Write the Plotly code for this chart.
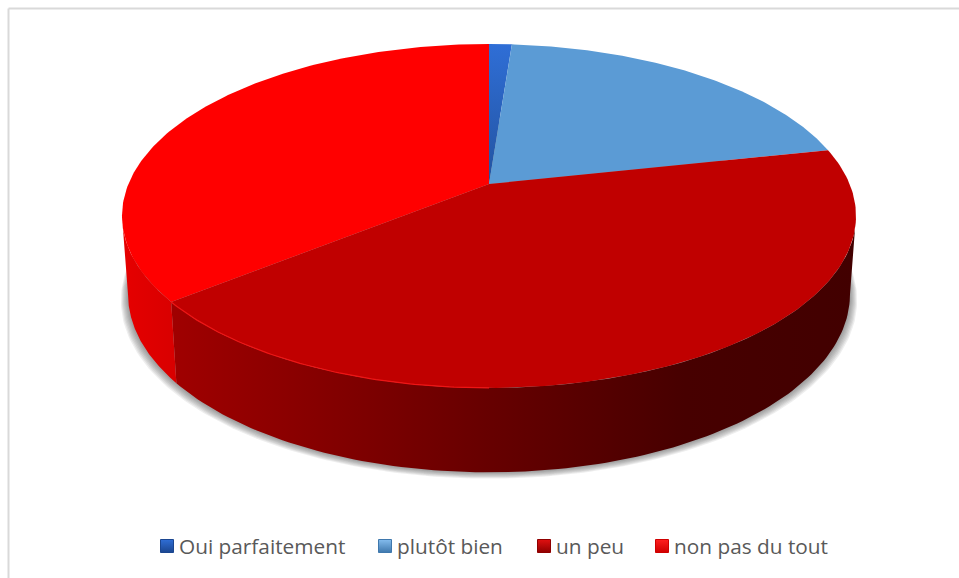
import numpy as np
import plotly.graph_objects as go

categories = ["Oui parfaitement", "plutôt bien", "un peu", "non pas du tout"]
shares = [1.2, 20.4, 42.6, 35.8]

top_colors = ["#2f6ed6", "#5b9bd5", "#c00000", "#ff0000"]
marker_colors = ["#1b4690", "#3f78ad", "#8f0000", "#d00000"]
marker_glow = ["#2f6ed6", "#84bcee", "#e01010", "#ff2020"]
side_scales = [
    [[0, "#1f4e9c"], [1, "#1f4e9c"]],
    [[0, "#4a7fb0"], [1, "#4a7fb0"]],
    [[0, "#a00000"], [0.45, "#680000"], [0.75, "#470000"], [1, "#420000"]],
    [[0, "#e60000"], [1, "#d80000"]],
]
legend_x = [167, 385, 544, 662]

# disc geometry in page pixels, w is the perspective divisor
cx = 489
persp = 0.186
top_disc = dict(a=360.6, b=166, y0=184)
bottom_disc = dict(a=354.7, b=172, y0=261)


def project(t, disc):
    w = 1 + persp * np.cos(t)
    return cx + disc["a"] * np.sin(t) / w, disc["y0"] - disc["b"] * np.cos(t) / w


edges = np.radians(np.concatenate([[0], np.cumsum(shares)]) * 360 / sum(shares))
full = np.linspace(0, 2 * np.pi, 361)
# the wall is only seen between the two silhouette angles
seen_from = np.arccos(-persp)
seen_to = 2 * np.pi - seen_from

fig = go.Figure()

# soft shadow under the disc
for step in range(7, 0, -1):
    disc = dict(a=bottom_disc["a"] + step, b=bottom_disc["b"], y0=bottom_disc["y0"] + step * 0.9)
    sx, sy = project(full, disc)
    fig.add_trace(go.Scatter(x=sx, y=sy, mode="lines", fill="toself", line=dict(width=0),
                             fillcolor="rgba(70,70,70,0.09)", hoverinfo="skip", showlegend=False))

# side wall, slice by slice
for i in range(len(shares)):
    start, stop = max(edges[i], seen_from), min(edges[i + 1], seen_to)
    if stop <= start:
        continue
    t = np.linspace(start, stop, 120)
    x1, y1 = project(t, top_disc)
    x2, y2 = project(t, bottom_disc)
    xs = np.concatenate([x1, x2[::-1]])
    ys = np.concatenate([y1, y2[::-1]])
    fig.add_trace(go.Scatter(
        x=xs, y=ys, mode="lines", fill="toself", line=dict(width=0),
        fillgradient=dict(type="horizontal", colorscale=side_scales[i], start=xs.min(), stop=xs.max()),
        hoverinfo="skip", showlegend=False))

# top face
for i in range(len(shares)):
    t = np.linspace(edges[i], edges[i + 1], 160)
    x1, y1 = project(t, top_disc)
    xs = np.concatenate([[cx], x1, [cx]])
    ys = np.concatenate([[top_disc["y0"]], y1, [top_disc["y0"]]])
    style = dict(fillcolor=top_colors[i])
    if i == 0:
        style = dict(fillgradient=dict(type="vertical", start=ys.min(), stop=ys.max(),
                                       colorscale=[[0, "#2f6ed6"], [1, "#2353a0"]]))
    fig.add_trace(go.Scatter(x=xs, y=ys, mode="lines", fill="toself", line=dict(width=0),
                             hoverinfo="skip", showlegend=False, **style))

# light bevel along the front edge of the dark slice
t = np.linspace(np.radians(180), edges[3], 80)
ex, ey = project(t, top_disc)
fig.add_trace(go.Scatter(x=ex, y=ey, mode="lines", line=dict(color="#ee1515", width=1.2),
                         hoverinfo="skip", showlegend=False))

# legend row, placed by hand since the plotly legend keeps a wider key gap
for name, base, glow, lx in zip(categories, marker_colors, marker_glow, legend_x):
    fig.add_trace(go.Scatter(
        x=[lx], y=[546], mode="markers", name=name,
        marker=dict(symbol="square", size=13, color=glow,
                    gradient=dict(type="vertical", color=base),
                    line=dict(color=base, width=1)),
        hoverinfo="skip", showlegend=False, cliponaxis=False))
    fig.add_annotation(x=lx + 10, y=546, text=name, showarrow=False, xanchor="left", yanchor="middle",
                       font=dict(family="Open Sans", size=20.8, color="#595959"))

fig.update_layout(
    width=959, height=578,
    margin=dict(l=0, r=0, t=0, b=0),
    paper_bgcolor="white", plot_bgcolor="white",
    xaxis=dict(range=[0, 959], visible=False, fixedrange=True),
    yaxis=dict(range=[578, 0], visible=False, fixedrange=True),
    shapes=[dict(type="line", xref="x", yref="y", x0=8.5, x1=8.5, y0=8.5, y1=578,
                 line=dict(color="#d9d9d9", width=2)),
            dict(type="line", xref="x", yref="y", x0=8.5, x1=959, y0=8.5, y1=8.5,
                 line=dict(color="#d9d9d9", width=2))],
)

fig.write_html("out.html", config=dict(displayModeBar=False),
               post_script="document.body.style.margin='0';")
